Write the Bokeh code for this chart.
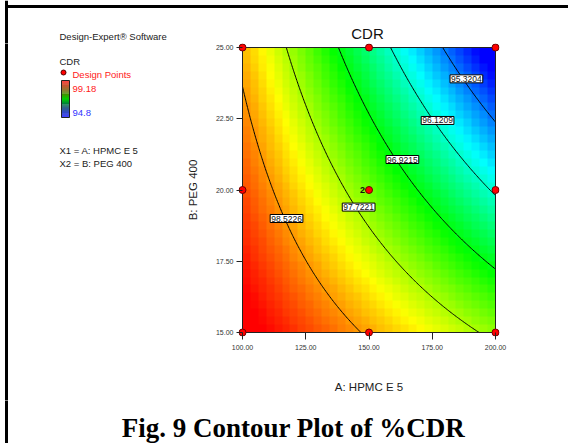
import numpy as np
from bokeh.plotting import figure
from bokeh.layouts import column, row
from bokeh.models import (Range1d, FixedTicker, PrintfTickFormatter, LinearColorMapper)
from bokeh.core.properties import value
from bokeh.embed import file_html
from bokeh.resources import INLINE

# ---------------- data ----------------
a_range = [100.0, 200.0]          # A: HPMC E 5
b_range = [15.0, 25.0]            # B: PEG 400
x_ticks = [100, 125, 150, 175, 200]
y_ticks = [15, 17.5, 20, 22.5, 25]
# fitted model (coded units): CDR = b0 + bA*a + bB*b + bAB*a*b
coef_b0 = 97.46
coef_A = -1.40
coef_B = -1.008
coef_AB = -0.543
levels = [95.3204, 96.1209, 96.9215, 97.7221, 98.5226]
level_labels = ["95.3204", "96.1209", "96.9215", "97.7221", "98.5226"]
label_A = [188.5, 177.1, 163.2, 145.9, 117.4]
label_B = [23.90, 22.44, 21.07, 19.40, 19.0]
design_A = [100, 150, 200, 100, 150, 200, 100, 150, 200]
design_B = [15, 15, 15, 20, 20, 20, 25, 25, 25]
center_A = [150]
center_B = [20]
center_reps = ["2"]
cdr_low, cdr_high = 94.8, 99.18
legend_high, legend_low = "99.18", "94.8"

FONT = value("Liberation Sans")
W, H = 568, 443


def cdr(A, B):
    a = (A - 150.0) / 50.0
    b = (B - 20.0) / 5.0
    return coef_b0 + coef_A * a + coef_B * b + coef_AB * a * b


def ramp(stops, n=256):
    stops = np.array(stops, dtype=float)
    t = np.linspace(0, 1, n)
    pos = np.linspace(0, 1, len(stops))
    out = []
    for ti in t:
        r = np.interp(ti, pos, stops[:, 0])
        g = np.interp(ti, pos, stops[:, 1])
        b = np.interp(ti, pos, stops[:, 2])
        out.append("#%02x%02x%02x" % (int(r), int(g), int(b)))
    return out


pal = ramp([(0, 0, 255), (0, 255, 255), (0, 255, 0), (255, 255, 0), (255, 0, 0)])
mapper = LinearColorMapper(palette=pal, low=cdr_low, high=cdr_high)


def blank(w, h):
    f = figure(width=w, height=h, output_backend="svg", toolbar_location=None,
               x_range=Range1d(0, w), y_range=Range1d(h, 0),
               x_axis_type=None, y_axis_type=None, min_border=0)
    f.outline_line_color = None
    f.grid.visible = False
    f.background_fill_color = "white"
    f.border_fill_color = "white"
    f.frame_align = False
    return f


def txt(f, x, y, s, size="9.5px", color="#222222", font=FONT, style="normal", align="left"):
    f.text(x=[x], y=[y], text=[s], text_font=font, text_font_size=size, text_color=color,
           text_font_style=style, text_align=align, text_baseline="middle")


# geometry (canvas px)
TOP_H = 43
MID_H = 357
CAP_H = H - TOP_H - MID_H
LEFT_W = 180
MAIN_W = W - LEFT_W

# ---------- top strip ----------
top = blank(W, TOP_H)
top.segment(x0=[6], y0=[6], x1=[W], y1=[6], line_color="black", line_width=3)
top.segment(x0=[6], y0=[0], x1=[6], y1=[TOP_H], line_color="black", line_width=3)
txt(top, 59, 36, "Design-Expert\u00ae Software")
txt(top, 367, 33, "CDR", size="15px", color="#111111", align="center")

# ---------- left info panel ----------
left = blank(LEFT_W, MID_H)
oy = TOP_H
left.segment(x0=[6], y0=[-2], x1=[6], y1=[MID_H + 2], line_color="black", line_width=3)
txt(left, 59, 61 - oy, "CDR")
left.scatter([63], [72 - oy], size=5, fill_color="#ff0000", line_color="#500000")
txt(left, 72, 74 - oy, "Design Points", color="#ff2020")
txt(left, 72, 88 - oy, legend_high, color="#ff2020")
txt(left, 72, 112 - oy, legend_low, color="#3333ff")
txt(left, 59, 150 - oy, "X1 = A: HPMC E 5")
txt(left, 59, 163 - oy, "X2 = B: PEG 400")
# legend colour strip (red top -> blue bottom)
n_leg = 36
leg_pal = ramp([(255, 0, 0), (120, 90, 0), (0, 210, 0), (0, 60, 110), (0, 0, 255)], n_leg)
leg_top, leg_bot = 80 - oy, 117 - oy
edges = np.linspace(leg_top, leg_bot, n_leg + 1)
left.quad(left=61, right=69, top=edges[:-1], bottom=edges[1:], fill_color=leg_pal,
          line_color=None)
left.quad(left=[61], right=[69], top=[leg_top], bottom=[leg_bot], fill_color=None,
          line_color="#222222", line_width=1)

# ---------- main contour plot ----------
FL, FR, FT, FB = 238 - LEFT_W, 499 - LEFT_W, 43 - TOP_H, 336 - TOP_H
pad_x = (a_range[1] - a_range[0]) * 4.0 / (FR - FL - 8)
pad_y = (b_range[1] - b_range[0]) * 4.0 / (FB - FT - 8)
p = figure(width=MAIN_W, height=MID_H, output_backend="svg", toolbar_location=None,
           x_range=Range1d(a_range[0] - pad_x, a_range[1] + pad_x),
           y_range=Range1d(b_range[0] - pad_y, b_range[1] + pad_y),
           min_border_left=FL, min_border_right=MAIN_W - FR,
           min_border_top=FT, min_border_bottom=MID_H - FB)
p.outline_line_color = None
p.grid.visible = False
p.background_fill_color = "white"
p.border_fill_color = "white"
p.frame_align = False

nx, ny = 32, 36
Ac = a_range[0] + (np.arange(nx) + 0.5) * (a_range[1] - a_range[0]) / nx
Bc = b_range[0] + (np.arange(ny) + 0.5) * (b_range[1] - b_range[0]) / ny
Zc = cdr(Ac[None, :], Bc[:, None])
p.image(image=[Zc], x=a_range[0], y=b_range[0], dw=a_range[1] - a_range[0],
        dh=b_range[1] - b_range[0], color_mapper=mapper)

Af = np.linspace(a_range[0], a_range[1], 201)
Bf = np.linspace(b_range[0], b_range[1], 201)
Zf = cdr(Af[None, :], Bf[:, None])
p.contour(Af, Bf, Zf, levels, line_color="black", line_width=1)

p.quad(left=[a_range[0]], right=[a_range[1]], bottom=[b_range[0]], top=[b_range[1]],
       fill_color=None, line_color="#222222", line_width=1)

p.text(x=label_A, y=label_B, text=level_labels, text_font=FONT, text_font_size="8.5px",
       text_align="center", text_baseline="middle", text_color="#111111",
       background_fill_color="white", border_line_color="black", padding=1)

p.scatter(design_A, design_B, size=7, fill_color="#ff0000", line_color="#700000", line_width=1)
p.text(x=center_A, y=center_B, text=center_reps, x_offset=-4, text_align="right",
       text_baseline="middle", text_font=FONT, text_font_size="9px", text_font_style="bold",
       text_color="#111111")

for ax, ticks in ((p.xaxis[0], x_ticks), (p.yaxis[0], y_ticks)):
    ax.ticker = FixedTicker(ticks=ticks)
    ax.formatter = PrintfTickFormatter(format="%.2f")
    ax.axis_line_color = None
    ax.minor_tick_line_color = None
    ax.major_tick_line_color = "#222222"
    ax.major_label_text_font = "Liberation Sans"
    ax.major_label_text_font_size = "7px"
    ax.major_label_text_color = "#333333"
    ax.axis_label_text_font = "Liberation Sans"
    ax.axis_label_text_font_size = "11.5px"
    ax.axis_label_text_font_style = "normal"
    ax.axis_label_text_color = "#222222"
p.xaxis.major_tick_in = 4
p.xaxis.major_tick_out = 3
p.xaxis.major_label_standoff = 5
p.xaxis.axis_label = "A: HPMC E 5"
p.xaxis.axis_label_standoff = 28
p.yaxis.major_tick_in = 4
p.yaxis.major_tick_out = 2
p.yaxis.major_label_standoff = 3
p.yaxis.axis_label = "B: PEG 400"
p.yaxis.axis_label_standoff = 14

# ---------- caption strip ----------
cap = blank(W, CAP_H)
cap.segment(x0=[6], y0=[-2], x1=[6], y1=[CAP_H + 2], line_color="black", line_width=3)
txt(cap, 293, 427 - TOP_H - MID_H, "Fig. 9 Contour Plot of %CDR", size="27px", color="black",
    font=value("Liberation Serif"), style="bold", align="center")

layout = column(top, row(left, p, spacing=0), cap, spacing=0)
open("out.html", "w").write(file_html(layout, INLINE))
